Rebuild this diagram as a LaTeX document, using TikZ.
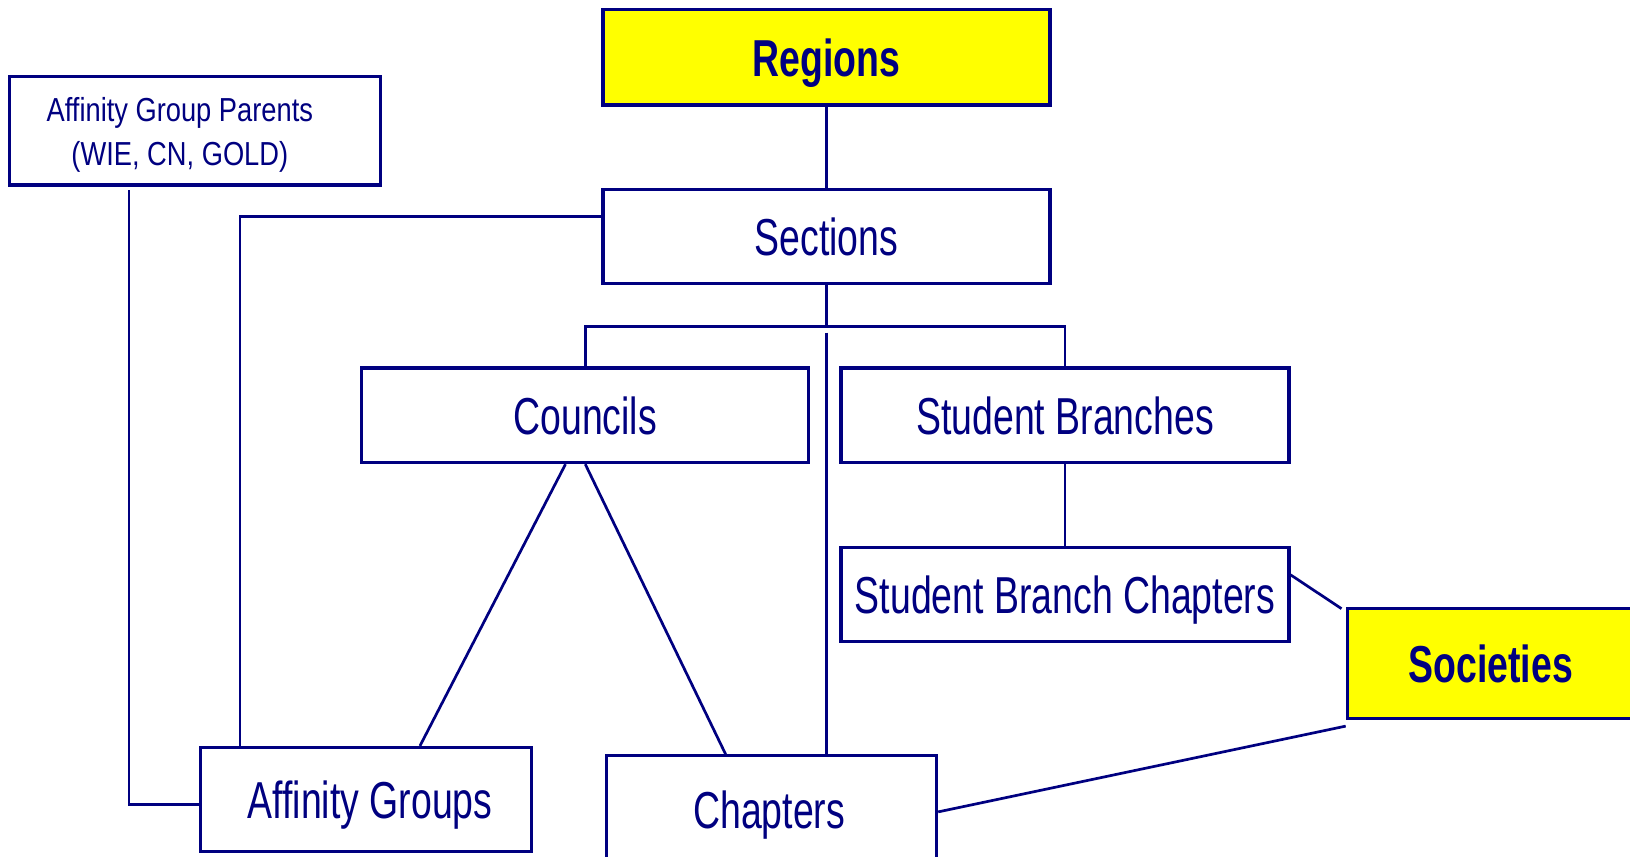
\documentclass[tikz,border=0pt]{standalone}
\usepackage{fontspec}
\setmainfont[FakeStretch=0.72]{Liberation Sans}
\newfontfamily\agpfont[FakeStretch=0.82]{Liberation Sans}
\definecolor{navy}{RGB}{0,0,128}
\definecolor{yel}{RGB}{255,255,0}
\begin{document}
\begin{tikzpicture}[x=0.5pt,y=-0.5pt,
  box/.style={draw=navy,line width=1.5pt,fill=white,text=navy,inner sep=0pt,align=center,
     text depth=0pt,font=\fontsize{25}{30}\selectfont},
  ybox/.style={box,fill=yel,font=\fontsize{25}{30}\selectfont\bfseries},
  conn/.style={draw=navy,line width=1.3pt}]
\useasboundingbox (0,0) rectangle (1568,824);
\node[ybox,minimum width=215pt,minimum height=46pt] (regions) at (795,55) {Regions};
\node[box,minimum width=178.5pt,minimum height=52pt] (agp) at (187.5,126) {};
\node[text=navy,align=center,inner sep=0pt,font=\agpfont\fontsize{16}{21}\selectfont] (agptext) at (173,130) {Affinity Group Parents\\(WIE, CN, GOLD)};
\node[box,minimum width=215pt,minimum height=45.5pt] (sections) at (795,227.5) {Sections};
\node[box,minimum width=215pt,minimum height=45.5pt] (councils) at (563,399.5) {Councils};
\node[box,minimum width=215.5pt,minimum height=45.5pt] (sb) at (1024.5,399.5) {Student Branches};
\node[box,minimum width=215.5pt,minimum height=45pt] (sbc) at (1024.5,572) {Student Branch Chapters};
\node[ybox,minimum width=138pt,minimum height=53pt] (societies) at (1434,638) {Societies};
\node[box,minimum width=159pt,minimum height=50pt] (ag) at (352,769) {\hspace*{4pt}Affinity Groups};
\node[box,minimum width=159pt,minimum height=52pt] (chapters) at (742,779) {Chapters\hspace*{2pt}};
\coordinate (busc) at (795,314);
\coordinate (chtop) at (795,320);
\coordinate (agpd) at (124,183);
\draw[conn] (regions) -- (sections);
\draw[conn] (sections.south) -- (busc);
\draw[conn] (councils.north) |- (busc) -| (sb.north);
\draw[conn] (chtop) -- (chtop |- chapters.north);
\draw[conn] ([yshift=9.75pt]sections.west) -| ([xshift=-60.5pt]ag.north);
\draw[conn] (agpd) |- ([yshift=-2.5pt]ag.west);
\draw[conn] ([xshift=-9.5pt]councils.south) -- ([xshift=26pt]ag.north);
\draw[conn] (councils.south) -- ([xshift=-22pt]chapters.north);
\draw[conn] (sb) -- (sbc);
\draw[conn] ([yshift=9.5pt]sbc.east) -- ([xshift=-2pt,yshift=-1pt]societies.north west);
\draw[conn] ([yshift=-3pt]societies.south west) -- ([yshift=-1pt]chapters.east);
\end{tikzpicture}
\end{document}
